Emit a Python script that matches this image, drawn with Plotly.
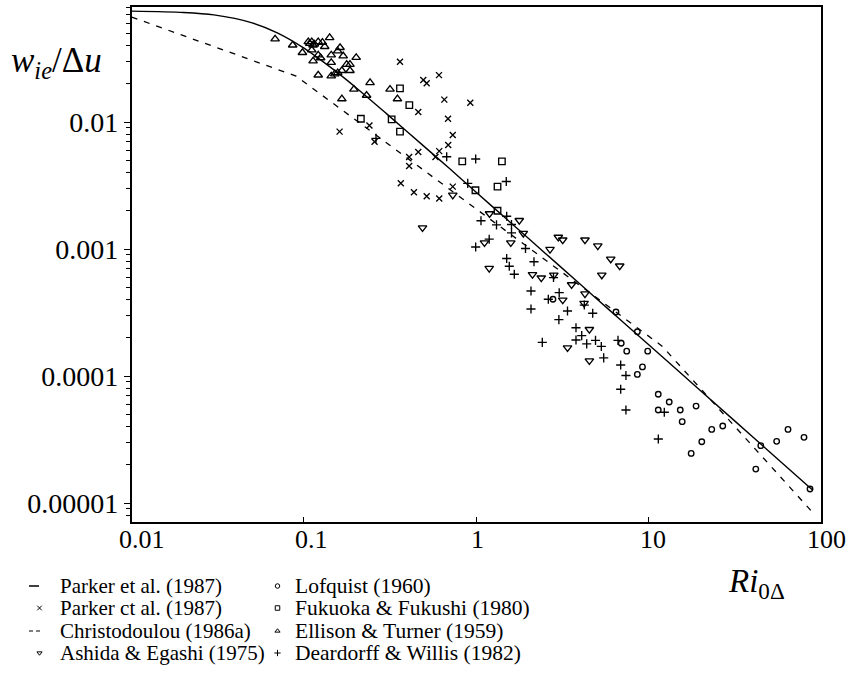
import math
import plotly.graph_objects as go

W, H = 850, 690
# plot box in page pixels: left, right, top, bottom
BOX_L, BOX_R, BOX_T, BOX_B = 131.7, 820.7, 7.0, 521.7
FONT = "Liberation Serif, Times New Roman, serif"

# ---- model curves ----
parker_ri = [0.01, 0.02, 0.03, 0.05, 0.07, 0.1, 0.15, 0.2, 0.3, 0.5, 0.7,
             1.0, 1.5, 2.0, 3.0, 5.0, 7.0, 10.0, 20.0, 50.0, 90.0]
parker_e = [0.0746, 0.0728, 0.0697, 0.0604, 0.0504, 0.0382, 0.0256, 0.0187,
            0.0117, 0.0064, 0.0043, 0.0028, 0.00172, 0.00122, 0.00075,
            0.000406, 0.000271, 0.000177, 7.7e-5, 2.56e-5, 1.26e-5]

christ_ri = [0.01, 0.09, 12.0, 90.0]
christ_e = [0.067, 0.023, 1.72e-4, 8.4e-6]

# ---- observations ----
parker_obs_ri = [0.361, 0.608, 0.493, 0.516, 0.653, 0.924, 0.461, 0.686, 0.731,
                 0.688, 0.161, 0.240, 0.257, 0.408, 0.461, 0.610, 0.580,
                 0.408, 0.365, 0.435, 0.516, 0.610, 0.731]
parker_obs_e = [0.0298, 0.0234, 0.0214, 0.0202, 0.0150, 0.0142, 0.0120, 0.0106,
                0.0079, 0.0066, 0.0084, 0.0094, 0.0070, 0.0053, 0.0058, 0.0059,
                0.0053, 0.0045, 0.0033, 0.0028, 0.0026, 0.0025, 0.0031]

ashida_ri = [0.488, 0.731, 1.195, 1.779, 1.877, 1.588, 1.117, 1.190, 2.122,
             2.387, 2.822, 2.682, 2.997, 3.178, 4.28, 5.08, 6.04, 6.81, 5.36,
             3.58, 3.18, 4.28, 4.23, 4.54, 3.39, 4.54]
ashida_e = [0.00147, 0.00266, 0.00190, 0.00168, 0.00133, 0.00112, 0.00112,
            0.000705, 0.000630, 0.000593, 0.000624, 0.000995, 0.00124,
            0.00118, 0.00118, 0.00106, 0.000834, 0.000737, 0.000624,
            0.000524, 0.000397, 0.000444, 0.000374, 0.000233, 0.000167,
            0.000132]

lofquist_ri = [2.79, 6.48, 8.62, 6.95, 7.48, 9.90, 9.23, 8.62, 11.4, 13.2,
               11.4, 15.3, 15.7, 18.9, 20.4, 23.3, 27.0, 17.7, 42.0, 44.9,
               55.5, 64.6, 80.0, 86.7]
lofquist_e = [4.02e-4, 3.19e-4, 2.23e-4, 1.81e-4, 1.57e-4, 1.57e-4, 1.18e-4,
              1.03e-4, 7.18e-5, 6.24e-5, 5.40e-5, 5.40e-5, 4.37e-5, 5.80e-5,
              3.04e-5, 3.80e-5, 4.04e-5, 2.46e-5, 1.85e-5, 2.83e-5, 3.06e-5,
              3.80e-5, 3.29e-5, 1.29e-5]

fukuoka_ri = [0.361, 0.409, 0.214, 0.323, 0.361, 0.830, 1.41, 1.33, 0.99, 1.33]
fukuoka_e = [0.0184, 0.0136, 0.0106, 0.0105, 0.0084, 0.0049, 0.0049, 0.0031,
             0.0029, 0.0020]

ellison_ri = [0.068, 0.086, 0.098, 0.106, 0.111, 0.113, 0.121, 0.128, 0.141,
              0.111, 0.132, 0.113, 0.121, 0.144, 0.157, 0.162, 0.144, 0.169,
              0.177, 0.185, 0.201, 0.185, 0.166, 0.144, 0.151, 0.157, 0.121,
              0.242, 0.195, 0.231, 0.166, 0.316, 0.349, 0.108, 0.115, 0.125]
ellison_e = [0.0450, 0.0403, 0.0352, 0.0428, 0.0428, 0.0403, 0.0428, 0.0423,
             0.0461, 0.0369, 0.0392, 0.0302, 0.0337, 0.0337, 0.0362, 0.0385,
             0.0294, 0.0331, 0.0284, 0.0284, 0.0322, 0.0254, 0.0254, 0.0230,
             0.0239, 0.0244, 0.0234, 0.0204, 0.0181, 0.0162, 0.0152, 0.0181,
             0.0152, 0.0415, 0.0410, 0.0320]

deardorff_ri = [0.262, 0.674, 0.993, 1.495, 0.893, 1.066, 1.312, 1.503, 1.603,
                1.603, 1.19, 0.993, 1.933, 1.503, 1.556, 2.165, 1.664, 2.811,
                2.080, 2.080, 2.622, 3.033, 3.02, 3.389, 2.419, 3.796, 4.098,
                3.796, 4.381, 4.928, 5.326, 4.243, 4.747, 5.499, 6.656, 6.90,
                7.40, 6.90, 7.40, 12.36, 11.41]
deardorff_e = [7.44e-3, 5.33e-3, 5.11e-3, 3.40e-3, 3.29e-3, 1.67e-3, 1.55e-3,
               1.81e-3, 1.56e-3, 1.34e-3, 1.195e-3, 1.037e-3, 1.009e-3,
               8.42e-4, 7.31e-4, 7.94e-4, 6.33e-4, 5.96e-4, 4.67e-4, 3.37e-4,
               4.02e-4, 4.53e-4, 2.78e-4, 3.25e-4, 1.84e-4, 2.40e-4, 2.08e-4,
               1.92e-4, 1.79e-4, 1.91e-4, 1.71e-4, 3.62e-4, 3.12e-4, 1.39e-4,
               1.91e-4, 1.22e-4, 1.01e-4, 7.86e-5, 5.40e-5, 5.18e-5, 3.19e-5]

# ---- ticks ----
x_tickvals = [0.01, 0.1, 1, 10, 100]
x_ticktext = ["0.01", "0.1", "1", "10", "100"]
x_label_nudge = [10, 8, 1, 5, 6]          # small horizontal offsets of the printed labels
y_tickvals = [1e-2, 1e-3, 1e-4, 1e-5]
y_ticktext = ["0.01", "0.001", "0.0001", "0.00001"]
y_minor = [k * 10.0 ** n for n in range(-6, -1) for k in range(2, 10)]
Y_RANGE = [-5.147, -1.0945]

# ---- legend ----
legend_col1 = ["Parker et al. (1987)", "Parker ct al. (1987)",
               "Christodoulou (1986a)", "Ashida & Egashi (1975)"]
legend_col2 = ["Lofquist (1960)", "Fukuoka & Fukushi (1980)",
               "Ellison & Turner (1959)", "Deardorff & Willis (1982)"]
legend_rows = [586, 608, 631, 653]

fig = go.Figure()

fig.add_trace(go.Scatter(x=parker_ri, y=parker_e, mode="lines",
                         line=dict(color="black", width=1.4, shape="spline", smoothing=0.8),
                         hoverinfo="skip"))
fig.add_trace(go.Scatter(x=christ_ri, y=christ_e, mode="lines",
                         line=dict(color="black", width=1.3, dash="6px,7px"),
                         hoverinfo="skip"))


def pts(x, y, symbol, size):
    return go.Scatter(x=x, y=y, mode="markers",
                      marker=dict(symbol=symbol, size=size, color="black",
                                  line=dict(color="black", width=1.35)),
                      hoverinfo="skip")


fig.add_trace(pts(parker_obs_ri, parker_obs_e, "x-thin-open", 6))
fig.add_trace(pts(ashida_ri, ashida_e, "triangle-down-open", 7.5))
fig.add_trace(pts(lofquist_ri, lofquist_e, "circle-open", 5.5))
fig.add_trace(pts(fukuoka_ri, fukuoka_e, "square-open", 6.5))
fig.add_trace(pts(ellison_ri, ellison_e, "triangle-up-open", 7.5))
fig.add_trace(pts(deardorff_ri, deardorff_e, "cross-thin-open", 6.5))

# minor y ticks live on a twin log axis laid over the main one
fig.add_trace(go.Scatter(x=[0.01], y=[0.001], mode="markers", yaxis="y3",
                         marker=dict(opacity=0), hoverinfo="skip"))

# legend keys, drawn on a page-pixel overlay axis
key = dict(xaxis="x2", yaxis="y2", hoverinfo="skip")
fig.add_trace(go.Scatter(x=[29, 39], y=[legend_rows[0]] * 2, mode="lines",
                         line=dict(color="black", width=1.5), **key))
fig.add_trace(go.Scatter(x=[29, 40], y=[legend_rows[2]] * 2, mode="lines",
                         line=dict(color="black", width=1.1, dash="4px,3px"), **key))
col1_syms = [(legend_rows[1], "x-thin-open"), (legend_rows[3], "triangle-down-open")]
for yy, sym in col1_syms:
    fig.add_trace(go.Scatter(x=[39.5], y=[yy], mode="markers",
                             marker=dict(symbol=sym, size=4.5, color="black",
                                         line=dict(color="black", width=1)), **key))
col2_syms = ["circle-open", "square-open", "triangle-up-open", "cross-thin-open"]
for yy, sym in zip(legend_rows, col2_syms):
    fig.add_trace(go.Scatter(x=[277.5], y=[yy], mode="markers",
                             marker=dict(symbol=sym, size=4.5, color="black",
                                         line=dict(color="black", width=1)), **key))

annotations = []
for yy, t in zip(legend_rows, legend_col1):
    annotations.append(dict(text=t, x=58 / W, y=1 - yy / H, xref="paper", yref="paper",
                            xanchor="left", yanchor="middle", showarrow=False,
                            font=dict(family=FONT, size=21, color="black")))
for yy, t in zip(legend_rows, legend_col2):
    annotations.append(dict(text=t, x=293 / W, y=1 - yy / H, xref="paper", yref="paper",
                            xanchor="left", yanchor="middle", showarrow=False,
                            font=dict(family=FONT, size=21.5, color="black")))
# x tick labels (printed just under the axis)
for v, t, dx in zip(x_tickvals, x_ticktext, x_label_nudge):
    annotations.append(dict(text=t, x=math.log10(v), xref="x", y=1 - 539 / H, yref="paper",
                            xanchor="center", yanchor="middle", xshift=dx, showarrow=False,
                            font=dict(family=FONT, size=26, color="black")))
# axis titles
annotations.append(dict(text="<i>w</i><sub><i>ie</i></sub>/Δ<i>u</i>",
                        x=9 / W, y=1 - 62 / H, xref="paper", yref="paper",
                        xanchor="left", yanchor="middle", showarrow=False,
                        font=dict(family=FONT, size=35, color="black")))
annotations.append(dict(text="<i>Ri</i><sub>0Δ</sub>",
                        x=726 / W, y=1 - 583 / H, xref="paper", yref="paper",
                        xanchor="left", yanchor="middle", showarrow=False,
                        font=dict(family=FONT, size=33, color="black")))

fig.update_layout(
    width=W, height=H,
    margin=dict(l=0, r=0, t=0, b=0),
    paper_bgcolor="white", plot_bgcolor="rgba(0,0,0,0)",
    showlegend=False,
    annotations=annotations,
    xaxis=dict(type="log", range=[-2, 2], domain=[BOX_L / W, BOX_R / W], anchor="y",
               showline=True, linecolor="black", linewidth=1.6, mirror=True,
               ticks="inside", ticklen=5, tickwidth=1.2, tickcolor="black",
               tickmode="array", tickvals=x_tickvals, showticklabels=False,
               showgrid=False, zeroline=False, automargin=False),
    yaxis=dict(type="log", range=Y_RANGE,
               domain=[1 - BOX_B / H, 1 - BOX_T / H], anchor="x",
               showline=True, linecolor="black", linewidth=1.6, mirror=True,
               ticks="outside", ticklen=6, tickwidth=1.2, tickcolor="black",
               tickmode="array", tickvals=y_tickvals, ticktext=y_ticktext,
               tickfont=dict(family=FONT, size=28, color="black"),
               showgrid=False, zeroline=False, automargin=False),
    yaxis3=dict(type="log", range=Y_RANGE, overlaying="y", anchor="x", side="left",
                tickmode="array", tickvals=y_minor, ticks="outside", ticklen=5,
                tickwidth=1, tickcolor="black", showticklabels=False, showline=False,
                showgrid=False, zeroline=False, fixedrange=True),
    xaxis2=dict(range=[0, W], domain=[0, 1], anchor="y2", visible=False, fixedrange=True),
    yaxis2=dict(range=[H, 0], domain=[0, 1], anchor="x2", visible=False, fixedrange=True),
)

fig.write_html("out.html")
